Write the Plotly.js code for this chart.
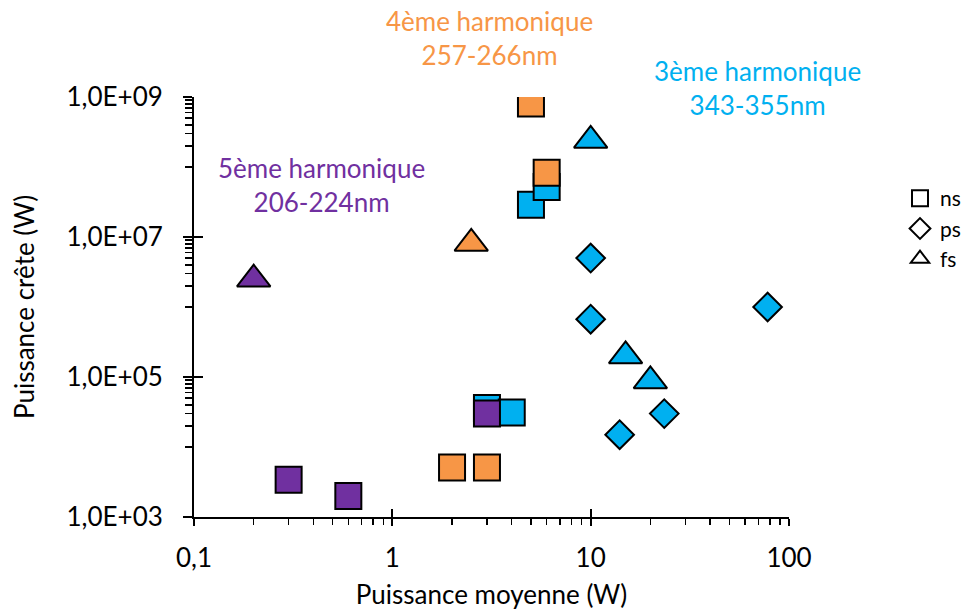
<!DOCTYPE html>
<html>
<head>
<meta charset="utf-8">
<script src="https://cdn.plot.ly/plotly-3.0.1.min.js"></script>
<style>html,body{margin:0;padding:0;background:#fff;}#chart{width:977px;height:612px;}</style>
</head>
<body>
<div id="chart"></div>
<script>
// 3ème harmonique (343-355nm)
var h3NsX = [5, 6, 3, 4];
var h3NsY = [2.9e7, 5.2e7, 3.6e4, 3.1e4];
var h3PsX = [10, 10, 14, 23.5, 78];
var h3PsY = [5.0e6, 6.7e5, 1.5e4, 3.0e4, 1.0e6];
var h3FsX = [10, 15, 20];
var h3FsY = [2.4e8, 2.0e5, 8.8e4];
// 4ème harmonique (257-266nm)
var h4NsX = [5, 6, 2, 3];
var h4NsY = [8.1e8, 8.3e7, 5.1e3, 5.1e3];
var h4FsX = [2.5];
var h4FsY = [8.1e6];
// 5ème harmonique (206-224nm)
var h5NsX = [0.3, 0.6, 3];
var h5NsY = [3.4e3, 2.0e3, 3.0e4];
var h5FsX = [0.2];
var h5FsY = [2.5e6];

var xTickVals = [0.1, 1, 10, 100];
var xTickText = ["0,1", "1", "10", "100"];
var yTickVals = [1e3, 1e5, 1e7, 1e9];
var yTickText = ["1,0E+03", "1,0E+05", "1,0E+07", "1,0E+09"];
var legendNames = ["ns", "ps", "fs"];

var C3 = "#00B0F0", C4 = "#F79646", C5 = "#7030A0";
var FONT = "Lato, 'Open Sans', sans-serif";
var FS = 26;

// minor tick positions (axis decoration)
var xMinor = [], yMinor = [];
[0.1, 1, 10].forEach(function (d) { for (var k = 2; k <= 9; k++) xMinor.push(k * d); });
[1e4, 1e6, 1e8].forEach(function (d) { for (var k = 1; k <= 9; k++) yMinor.push(k * d); });

function sc(x, y, sym, col, name) {
  var size = sym === "square" ? 26 : (sym === "diamond" ? 22 : 29);
  return {
    type: "scatter", mode: "markers", x: x, y: y, name: name, showlegend: false,
    marker: { symbol: sym, size: size, color: col, line: { color: "#000", width: 2 } },
    hoverinfo: "x+y+name"
  };
}

var traces = [
  sc(h3NsX, h3NsY, "square", C3, "3ème ns"),
  sc(h3PsX, h3PsY, "diamond", C3, "3ème ps"),
  sc(h3FsX, h3FsY, "triangle-up", C3, "3ème fs"),
  sc(h4NsX, h4NsY, "square", C4, "4ème ns"),
  sc(h4FsX, h4FsY, "triangle-up", C4, "4ème fs"),
  sc(h5NsX, h5NsY, "square", C5, "5ème ns"),
  sc(h5FsX, h5FsY, "triangle-up", C5, "5ème fs")
];
var legSyms = ["square-open", "diamond-open", "triangle-up-open"];
legendNames.forEach(function (n, i) {
  traces.push({
    type: "scatter", mode: "markers", x: [null], y: [null], name: n, showlegend: true,
    marker: { symbol: legSyms[i], size: 16, color: "#000", line: { color: "#000", width: 2 } }
  });
});
// invisible trace for overlay axes (crossing major ticks)
traces.push({ type: "scatter", mode: "markers", x: [null], y: [null], xaxis: "x2", yaxis: "y2", showlegend: false, hoverinfo: "skip" });

var layout = {
  width: 977, height: 612,
  margin: { l: 194, r: 188, t: 97, b: 95 },
  paper_bgcolor: "#fff", plot_bgcolor: "rgba(0,0,0,0)",
  font: { family: FONT, size: FS, color: "#000" },
  showlegend: true,
  legend: {
    xref: "container", yref: "container",
    x: 900 / 977, y: 1 - 178 / 612, xanchor: "left", yanchor: "top",
    font: { family: FONT, size: 21, color: "#000" },
    itemwidth: 30, tracegroupgap: 0, bgcolor: "rgba(0,0,0,0)"
  },
  xaxis: {
    type: "log", range: [-1, 2], tickmode: "array", tickvals: xTickVals, ticktext: xTickText,
    showline: true, linecolor: "#000", linewidth: 2, mirror: false, automargin: false,
    ticks: "outside", ticklen: 7, tickwidth: 2, tickcolor: "#000",
    ticklabelstandoff: 10,
    minor: { tickmode: "array", tickvals: xMinor, ticks: "outside", ticklen: 6, tickwidth: 1.5, tickcolor: "#000", showgrid: false },
    showgrid: false, zeroline: false,
    tickfont: { family: FONT, size: FS, color: "#000" },
    title: { text: "Puissance moyenne (W)", font: { family: FONT, size: FS, color: "#000" }, standoff: 14 }
  },
  yaxis: {
    type: "log", range: [3, 9], tickmode: "array", tickvals: yTickVals, ticktext: yTickText,
    showline: true, linecolor: "#000", linewidth: 2, automargin: false,
    ticks: "outside", ticklen: 9, tickwidth: 2, tickcolor: "#000",
    ticklabelstandoff: 15,
    minor: { tickmode: "array", tickvals: yMinor, ticks: "outside", ticklen: 7, tickwidth: 1.5, tickcolor: "#000", showgrid: false },
    showgrid: false, zeroline: false,
    tickfont: { family: FONT, size: FS, color: "#000" },
    title: { text: "Puissance crête (W)", font: { family: FONT, size: FS, color: "#000" }, standoff: 24 }
  },
  xaxis2: {
    type: "log", range: [-1, 2], overlaying: "x", anchor: "y2", tickmode: "array", tickvals: xTickVals,
    ticks: "inside", ticklen: 8, tickwidth: 2, tickcolor: "#000", showticklabels: false,
    showline: false, showgrid: false, zeroline: false, automargin: false
  },
  yaxis2: {
    type: "log", range: [3, 9], overlaying: "y", anchor: "x2", tickmode: "array", tickvals: yTickVals,
    ticks: "inside", ticklen: 9, tickwidth: 2, tickcolor: "#000", showticklabels: false,
    showline: false, showgrid: false, zeroline: false, automargin: false
  },
  annotations: [
    { xref: "paper", yref: "paper", x: (489 - 194) / 595, y: (517 - 38) / 420, xanchor: "center", yanchor: "middle",
      text: "4ème harmonique<br>257-266nm", showarrow: false, align: "center",
      font: { family: FONT, size: FS, color: C4 } },
    { xref: "paper", yref: "paper", x: (757 - 194) / 595, y: (517 - 88) / 420, xanchor: "center", yanchor: "middle",
      text: "3ème harmonique<br>343-355nm", showarrow: false, align: "center",
      font: { family: FONT, size: FS, color: C3 } },
    { xref: "paper", yref: "paper", x: (321 - 194) / 595, y: (517 - 185) / 420, xanchor: "center", yanchor: "middle",
      text: "5ème harmonique<br>206-224nm", showarrow: false, align: "center",
      font: { family: FONT, size: FS, color: C5 } }
  ]
};

Plotly.newPlot("chart", traces, layout, { displayModeBar: false, staticPlot: true });
</script>
</body>
</html>
